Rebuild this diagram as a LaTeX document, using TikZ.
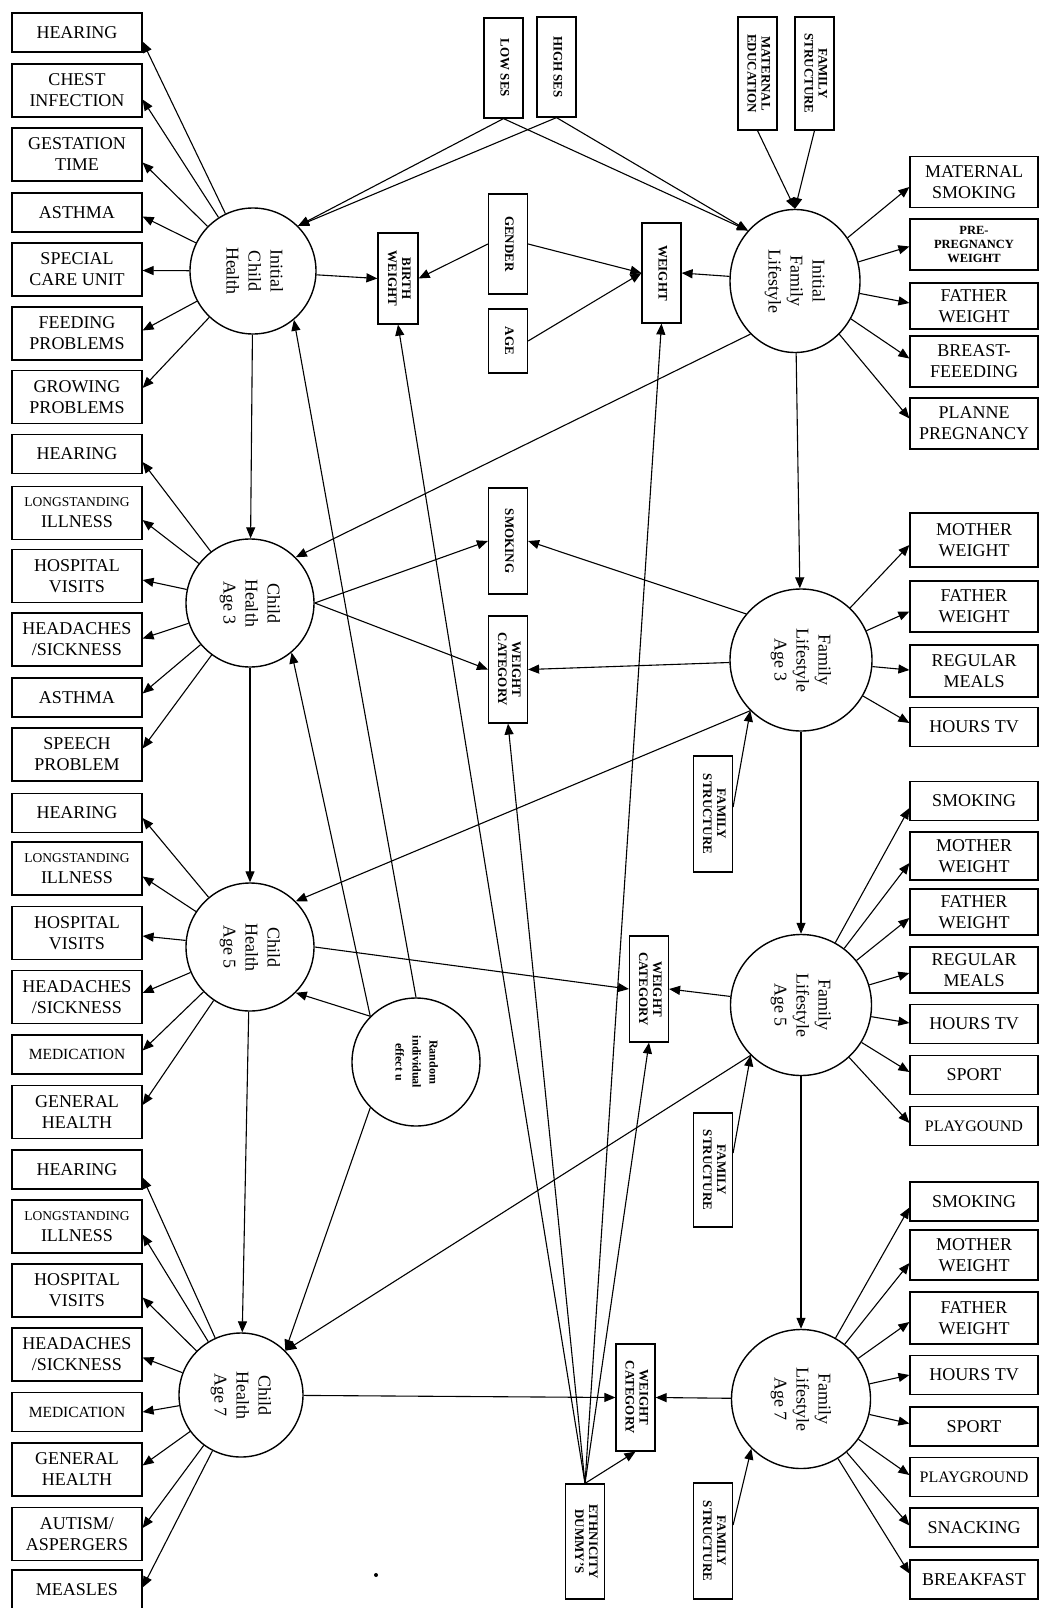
\documentclass[tikz,border=0pt]{standalone}
\usepackage{fontspec}
\setmainfont{Liberation Serif}
\usepackage{tikz}
\usetikzlibrary{calc,arrows.meta,shapes.geometric}
\newcommand{\vtext}[1]{\rotatebox{-90}{\begin{tabular}{@{}c@{}}#1\end{tabular}}}
\newcommand{\lng}{{\fontsize{13.5}{14}\selectfont LONGSTANDING}}

\begin{document}
\begin{tikzpicture}[x=1pt, y=-1pt, color=black,
		every node/.style={inner sep=0pt, align=center, font=\fontsize{18}{21}\selectfont},
		lbox/.style={draw, line width=1.2pt, minimum width=130, minimum height=53},
		rbox/.style={draw, line width=1.2pt, minimum width=128, minimum height=51},
		oneline/.style={minimum height=39},
		vbox/.style={draw, line width=1.2pt, minimum width=39, font=\fontsize{13}{14}\selectfont\bfseries},
		latent/.style={draw, circle, line width=1.4pt, font=\fontsize{18}{22}\selectfont},
		arr/.style={-{Triangle[length=11pt,width=9pt]}, line width=1.1pt}]
		\path[use as bounding box, fill=white] (0,0) rectangle (1039,1608);
		
		\node[latent, minimum size=126] (ich) at (253,271) {\vtext{Initial\\Child\\Health}};
		\node[latent, minimum size=128] (ch3) at (250,603) {\vtext{Child\\Health\\Age 3}};
		\node[latent, minimum size=128] (ch5) at (250,947) {\vtext{Child\\Health\\Age 5}};
		\node[latent, minimum size=124] (ch7) at (241,1395) {\vtext{Child\\Health\\Age 7}};
		\node[latent, ellipse, minimum width=130, minimum height=143] (ifl) at (795,281) {\vtext{Initial\\Family\\Lifestyle}};
		\node[latent, minimum size=142] (fl3) at (801,660) {\vtext{Family\\Lifestyle\\Age 3}};
		\node[latent, minimum size=141] (fl5) at (801,1005) {\vtext{Family\\Lifestyle\\Age 5}};
		\node[latent, minimum size=139] (fl7) at (801,1399) {\vtext{Family\\Lifestyle\\Age 7}};
		\node[latent, minimum size=128, font=\fontsize{12}{17}\selectfont\bfseries] (rie) at (416,1062) {\vtext{Random\\individual\\effect u}};
		
		\node[lbox, oneline] (hr0) at (77,32.5) {HEARING};
		\node[lbox] (ci) at (77,90.5) {CHEST\\INFECTION};
		\node[lbox] (gt) at (77,154.5) {GESTATION\\TIME};
		\node[lbox, oneline] (as0) at (77,212.5) {ASTHMA};
		\node[lbox] (scu) at (77,269.5) {SPECIAL\\CARE UNIT};
		\node[lbox] (fp) at (77,333.5) {FEEDING\\PROBLEMS};
		\node[lbox] (gp) at (77,397) {GROWING\\PROBLEMS};
		
		\node[lbox, oneline] (hr3) at (77,454) {HEARING};
		\node[lbox] (li3) at (77,513) {\lng\\ILLNESS};
		\node[lbox] (hv3) at (77,576) {HOSPITAL\\VISITS};
		\node[lbox] (hs3) at (77,639.5) {HEADACHES\\/SICKNESS};
		\node[lbox, oneline] (as3) at (77,697.5) {ASTHMA};
		\node[lbox] (sp3) at (77,754.5) {SPEECH\\PROBLEM};
		
		\node[lbox, oneline] (hr5) at (77,813) {HEARING};
		\node[lbox] (li5) at (77,868.5) {\lng\\ILLNESS};
		\node[lbox] (hv5) at (77,933) {HOSPITAL\\VISITS};
		\node[lbox] (hs5) at (77,997) {HEADACHES\\/SICKNESS};
		\node[lbox, oneline, font=\fontsize{15.5}{18}\selectfont] (md5) at (77,1054.5) {MEDICATION};
		\node[lbox] (gh5) at (77,1112) {GENERAL\\HEALTH};
		
		\node[lbox, oneline] (hr7) at (77,1169.5) {HEARING};
		\node[lbox] (li7) at (77,1226.5) {\lng\\ILLNESS};
		\node[lbox] (hv7) at (77,1290.5) {HOSPITAL\\VISITS};
		\node[lbox] (hs7) at (77,1354.5) {HEADACHES\\/SICKNESS};
		\node[lbox, oneline, font=\fontsize{15.5}{18}\selectfont] (md7) at (77,1412) {MEDICATION};
		\node[lbox] (gh7) at (77,1469.5) {GENERAL\\HEALTH};
		\node[lbox] (au7) at (77,1534) {AUTISM/\\ASPERGERS};
		\node[lbox, oneline] (ms7) at (77,1589.5) {MEASLES};
		
		\node[rbox] (msm) at (974,182) {MATERNAL\\SMOKING};
		\node[rbox, font=\fontsize{12.5}{14}\selectfont\bfseries] (ppw) at (974,244.5) {PRE-\\PREGNANCY\\WEIGHT};
		\node[rbox, minimum height=46] (fw0) at (974,306) {FATHER\\WEIGHT};
		\node[rbox] (bf) at (974,361.5) {BREAST-\\FEEEDING};
		\node[rbox] (pl) at (974,423.5) {PLANNE\\PREGNANCY};
		
		\node[rbox, minimum height=54] (mw3) at (974,540) {MOTHER\\WEIGHT};
		\node[rbox] (fw3) at (974,606.5) {FATHER\\WEIGHT};
		\node[rbox, minimum height=52] (rm3) at (974,671) {REGULAR\\MEALS};
		\node[rbox, oneline] (tv3) at (974,727) {HOURS TV};
		
		\node[rbox, oneline] (sm5) at (974,801) {SMOKING};
		\node[rbox, minimum height=48] (mw5) at (974,856) {MOTHER\\WEIGHT};
		\node[rbox, minimum height=46] (fw5) at (974,912) {FATHER\\WEIGHT};
		\node[rbox, minimum height=46] (rm5) at (974,970) {REGULAR\\MEALS};
		\node[rbox, oneline] (tv5) at (974,1024) {HOURS TV};
		\node[rbox, oneline] (sp5) at (974,1075) {SPORT};
		\node[rbox, oneline, font=\fontsize{16}{18}\selectfont] (pg5) at (974,1126) {PLAYGOUND};
		
		\node[rbox, oneline] (sm7) at (974,1201.5) {SMOKING};
		\node[rbox, minimum height=50] (mw7) at (974,1255) {MOTHER\\WEIGHT};
		\node[rbox, minimum height=52] (fw7) at (974,1318) {FATHER\\WEIGHT};
		\node[rbox, oneline] (tv7) at (974,1375) {HOURS TV};
		\node[rbox, oneline] (sp7) at (974,1426.5) {SPORT};
		\node[rbox, oneline, font=\fontsize{16}{18}\selectfont] (pg7) at (974,1477) {PLAYGROUND};
		\node[rbox, oneline] (sn7) at (974,1527.5) {SNACKING};
		\node[rbox, oneline] (bk7) at (974,1579.5) {BREAKFAST};
		
		\node[vbox, minimum height=100] (low) at (503.5,68) {\vtext{LOW SES}};
		\node[vbox, minimum height=100] (high) at (556.5,67) {\vtext{HIGH SES}};
		\node[vbox, minimum height=113] (med) at (757.5,73.5) {\vtext{MATERNAL\\EDUCATION}};
		\node[vbox, minimum height=113] (fs0) at (814.5,73.5) {\vtext{FAMILY\\STRUCTURE}};
		\node[vbox, minimum height=91, minimum width=40] (bw) at (398,278.5) {\vtext{BIRTH\\WEIGHT}};
		\node[vbox, minimum height=100] (gen) at (508,244) {\vtext{GENDER}};
		\node[vbox, minimum height=64] (age) at (508,341) {\vtext{AGE}};
		\node[vbox, minimum height=100] (wt) at (661.5,273) {\vtext{WEIGHT}};
		\node[vbox, minimum height=106] (smk) at (508,541) {\vtext{SMOKING}};
		\node[vbox, minimum height=107] (wc3) at (508,669.5) {\vtext{WEIGHT\\CATEGORY}};
		\node[vbox, minimum height=116] (fs3) at (713,814) {\vtext{FAMILY\\STRUCTURE}};
		\node[vbox, minimum height=106] (wc5) at (649,989) {\vtext{WEIGHT\\CATEGORY}};
		\node[vbox, minimum height=114] (fs5) at (713,1170) {\vtext{FAMILY\\STRUCTURE}};
		\node[vbox, minimum height=107] (wc7) at (635.5,1397.5) {\vtext{WEIGHT\\CATEGORY}};
		\node[vbox, minimum height=115] (eth) at (585,1541.5) {\vtext{ETHNICITY\\DUMMY'S}};
		\node[vbox, minimum height=116] (fs7) at (713,1541) {\vtext{FAMILY\\STRUCTURE}};
		
		\fill (376,1575) circle (2pt);
		
		\foreach \b/\d in {hr0/9,ci/9,gt/8,as0/4,scu/1,fp/-3,gp/-9}
			\draw[arr] (ich) -- ($(\b.east)+(0,\d)$);
		\foreach \b/\d in {hr3/8,li3/7,hv3/4,hs3/-1,as3/-4,sp3/-6}
			\draw[arr] (ch3) -- ($(\b.east)+(0,\d)$);
		\foreach \b/\d in {hr5/5,li5/8,hv5/3,hs5/-4,md5/-4,gh5/-7}
			\draw[arr] (ch5) -- ($(\b.east)+(0,\d)$);
		\foreach \b/\d in {hr7/8,li7/8,hv7/7,hs7/3,md7/0,gh7/-4,au7/-6,ms7/-2}
			\draw[arr] (ch7) -- ($(\b.east)+(0,\d)$);
		\foreach \b/\d in {msm/5,ppw/2,fw0/-3,bf/-3,pl/-5}
			\draw[arr] (ifl) -- ($(\b.west)+(0,\d)$);
		\foreach \b/\d in {mw3/5,fw3/5,rm3/-1,tv3/-4}
			\draw[arr] (fl3) -- ($(\b.west)+(0,\d)$);
		\foreach \b/\d in {sm5/7,mw5/7,fw5/6,rm5/3,tv5/-1,sp5/-3,pg5/-3}
			\draw[arr] (fl5) -- ($(\b.west)+(0,\d)$);
		\foreach \b/\d in {sm7/6,mw7/8,fw7/4,tv7/0,sp7/-3,pg7/-2,sn7/-2,bk7/-6}
			\draw[arr] (fl7) -- ($(\b.west)+(0,\d)$);
		
		\draw[arr] (ich) -- (ch3);
		\draw[arr] (ch3) -- (ch5);
		\draw[arr] (ch5) -- (ch7);
		\draw[arr] (ifl) -- (fl3);
		\draw[arr] (fl3) -- (fl5);
		\draw[arr] (fl5) -- (fl7);
		
		\draw[arr] (low.south) -- (ich.45);
		\draw[arr] (high.south) -- (ich.45);
		\draw[arr] (low.south) -- (ifl.133);
		\draw[arr] (high.south) -- (ifl.133);
		\draw[arr] (med.south) -- (ifl.north);
		\draw[arr] (fs0.south) -- (ifl.north);
		\draw[arr] (ich) -- (bw.west);
		\draw[arr] (gen.west) -- (bw.east);
		\draw[arr] (gen.east) -- (wt.west);
		\draw[arr] (age.east) -- (wt.west);
		\draw[arr] (ifl) -- (wt.east);
		
		\draw[arr] (ifl.230) -- (ch3.45);
		\draw[arr] (ch3.east) -- (smk.west);
		\draw[arr] (ch3.east) -- (wc3.west);
		\draw[arr] (fl3.140) -- (smk.east);
		\draw[arr] (fl3) -- (wc3.east);
		\draw[arr] ($(fs3.east)+(0,-7)$) -- (fl3.225);
		\draw[arr] (fl3.225) -- (ch5.45);
		\draw[arr] (ch5.east) -- (wc5.west);
		\draw[arr] (fl5) -- (wc5.east);
		\draw[arr] ($(fs5.east)+(0,-17)$) -- (fl5.225);
		\draw[arr] (fl5.225) -- (ch7.45);
		\draw[arr] (ch7) -- (wc7.west);
		\draw[arr] (fl7) -- (wc7.east);
		\draw[arr] ($(fs7.east)+(0,-16)$) -- (fl7.225);
		
		\foreach \t in {bw,wc3,wt,wc5,wc7}
			\draw[arr] (eth.north) -- (\t.south);
		\draw[arr] (rie.north) -- (ich.-50);
		\draw[arr] (rie.135) -- (ch3.-50);
		\draw[arr] (rie.135) -- (ch5.-45);
		\draw[arr] (rie.225) -- (ch7.45);
	\end{tikzpicture}
\end{document}
